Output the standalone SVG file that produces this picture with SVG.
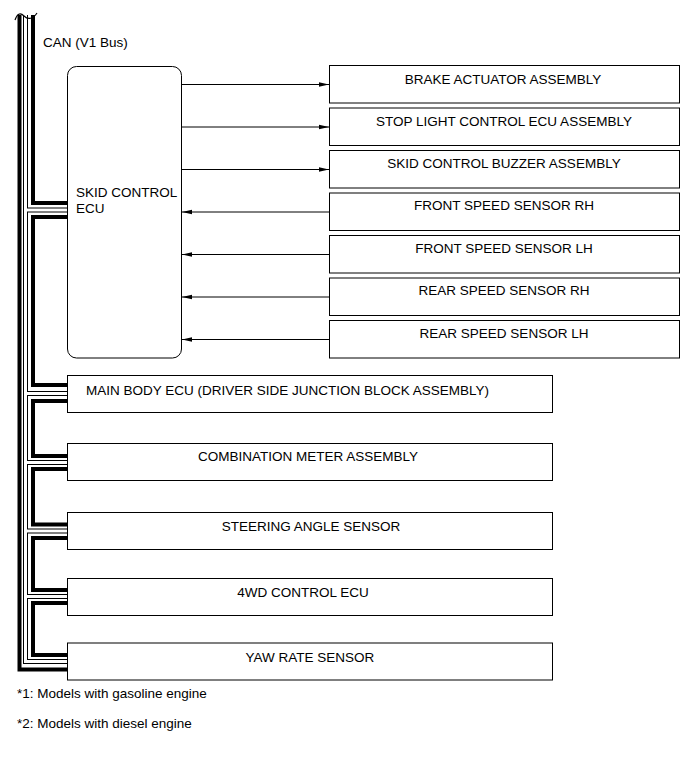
<svg xmlns="http://www.w3.org/2000/svg" width="691" height="757" viewBox="0 0 691 757">
<style>
text{font-family:"Liberation Sans",Arial,sans-serif;font-size:13.5px;fill:#000}
.box{fill:#fff;stroke:#000;stroke-width:1}
.c{text-anchor:middle}
.thick{fill:none;stroke:#000;stroke-width:4;stroke-linejoin:miter;stroke-linecap:butt}
.dbl-o{fill:none;stroke:#000;stroke-width:5;stroke-linecap:butt}
.dbl-i{fill:none;stroke:#fff;stroke-width:3;stroke-linecap:butt}
.arr{fill:none;stroke:#000;stroke-width:1;marker-end:url(#ah)}
</style>
<defs>
<marker id="ah" markerWidth="11" markerHeight="6" refX="10" refY="3" orient="auto" markerUnits="userSpaceOnUse">
<path d="M0,0.8 L10,3 L0,5.2 Z" fill="#000"/>
</marker>
</defs>
<rect width="691" height="757" fill="#fff"/>
<g id="connectors">
<path class="dbl-o" d="M25.5,15 V661.5 H67 M25.5,210 H67 M25.5,393.5 H67 M25.5,462.5 H67 M25.5,531 H67 M25.5,596.5 H67"/>
<path class="dbl-i" d="M25.5,15 V661.5 H67 M25.5,210 H67 M25.5,393.5 H67 M25.5,462.5 H67 M25.5,531 H67 M25.5,596.5 H67"/>
<path class="thick" d="M19.5,15 V669.5 H67"/>
<path class="thick" d="M33,15 V203 H67"/>
<path class="thick" d="M67,217 H33 V385 H67"/>
<path class="thick" d="M67,401 H33 V456 H67"/>
<path class="thick" d="M67,469 H33 V524.5 H67"/>
<path class="thick" d="M67,538 H33 V590 H67"/>
<path class="thick" d="M67,603 H33 V655 H67"/>
<path d="M15,20 C17,14 20,12 24,16 C28,20 33,19 37,13" fill="none" stroke="#000" stroke-width="1.2"/>
<path class="arr" d="M181.5,84.5 H329"/>
<path class="arr" d="M181.5,127 H329"/>
<path class="arr" d="M181.5,169.5 H329"/>
<path class="arr" d="M329,212 H182"/>
<path class="arr" d="M329,254.5 H182"/>
<path class="arr" d="M329,297 H182"/>
<path class="arr" d="M329,339.5 H182"/>
</g>
<text x="43" y="47">CAN (V1 Bus)</text>
<g id="skid-control-ecu">
<rect class="box" x="67.5" y="66.5" width="114" height="291.5" rx="9"/>
<text x="76" y="197">SKID CONTROL</text>
<text x="76" y="213">ECU</text>
</g>
<g id="brake-actuator">
<rect class="box" x="329.5" y="65.5" width="350" height="37.5"/>
<text class="c" x="503" y="83.5">BRAKE ACTUATOR ASSEMBLY</text>
</g>
<g id="stop-light-ecu">
<rect class="box" x="329.5" y="108" width="350" height="37.5"/>
<text class="c" x="504" y="125.5">STOP LIGHT CONTROL ECU ASSEMBLY</text>
</g>
<g id="skid-buzzer">
<rect class="box" x="329.5" y="150.5" width="350" height="37.5"/>
<text class="c" x="504" y="167.5">SKID CONTROL BUZZER ASSEMBLY</text>
</g>
<g id="front-rh">
<rect class="box" x="329.5" y="193" width="350" height="37.5"/>
<text class="c" x="504" y="210">FRONT SPEED SENSOR RH</text>
</g>
<g id="front-lh">
<rect class="box" x="329.5" y="235.5" width="350" height="37.5"/>
<text class="c" x="504" y="252.5">FRONT SPEED SENSOR LH</text>
</g>
<g id="rear-rh">
<rect class="box" x="329.5" y="278" width="350" height="37.5"/>
<text class="c" x="504" y="295">REAR SPEED SENSOR RH</text>
</g>
<g id="rear-lh">
<rect class="box" x="329.5" y="320.5" width="350" height="37.5"/>
<text class="c" x="504" y="337.5">REAR SPEED SENSOR LH</text>
</g>
<g id="main-body-ecu">
<rect class="box" x="67.5" y="375.5" width="485" height="37"/>
<text x="86" y="395">MAIN BODY ECU (DRIVER SIDE JUNCTION BLOCK ASSEMBLY)</text>
</g>
<g id="combination-meter">
<rect class="box" x="67.5" y="443.5" width="485" height="37"/>
<text class="c" x="308" y="461">COMBINATION METER ASSEMBLY</text>
</g>
<g id="steering-angle-sensor">
<rect class="box" x="67.5" y="512.5" width="485" height="37"/>
<text class="c" x="311" y="530.5">STEERING ANGLE SENSOR</text>
</g>
<g id="4wd-control-ecu">
<rect class="box" x="67.5" y="578.5" width="485" height="37"/>
<text class="c" x="303" y="596.5">4WD CONTROL ECU</text>
</g>
<g id="yaw-rate-sensor">
<rect class="box" x="67.5" y="643" width="485" height="37"/>
<text class="c" x="310" y="661.5">YAW RATE SENSOR</text>
</g>
<text x="17" y="698">*1: Models with gasoline engine</text>
<text x="17" y="728">*2: Models with diesel engine</text>
</svg>
